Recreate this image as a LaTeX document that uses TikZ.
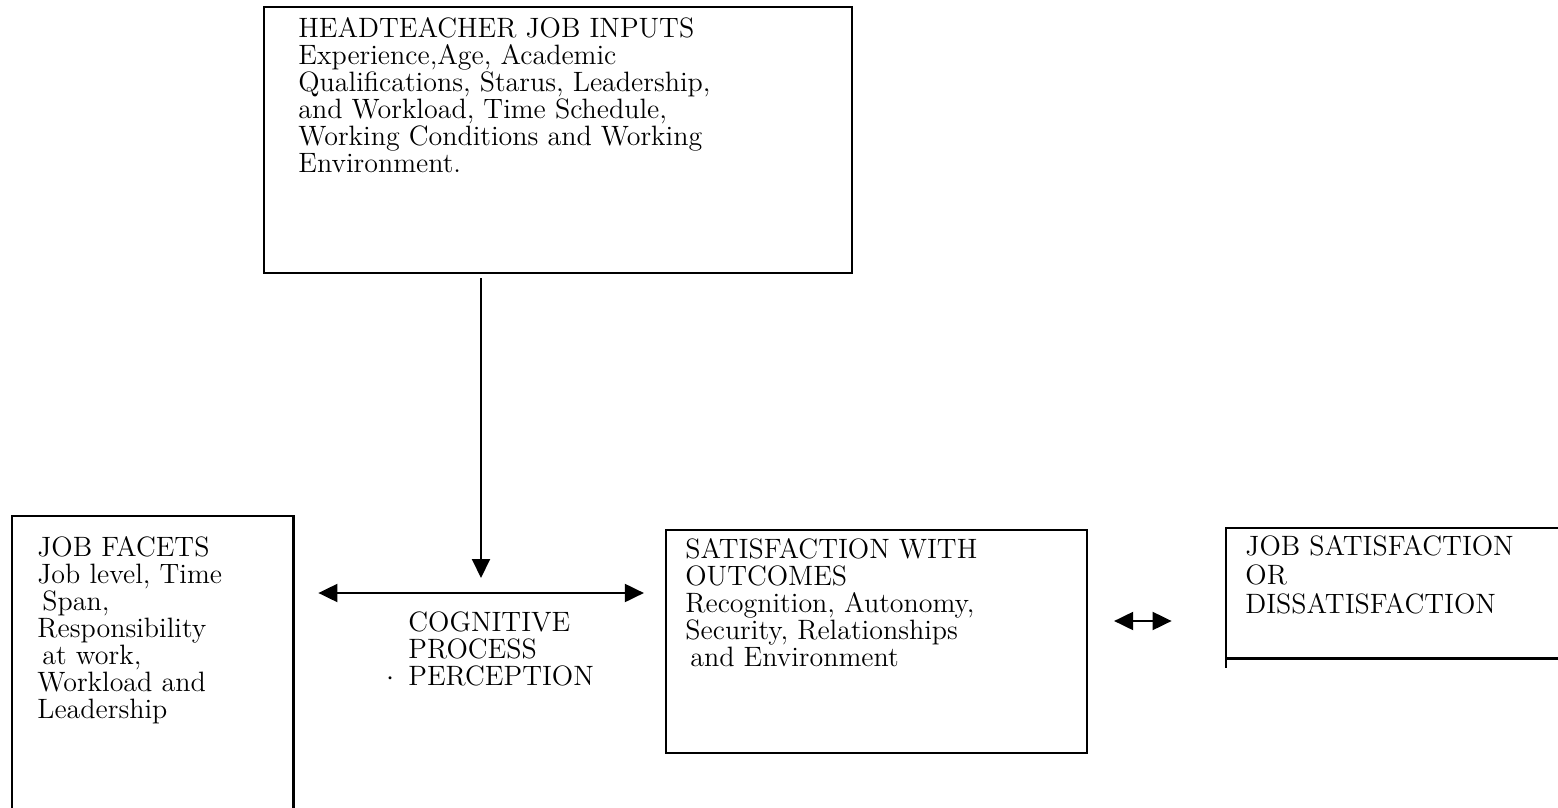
\documentclass[tikz,border=0pt]{standalone}
\usetikzlibrary{arrows.meta,fit}
\begin{document}
\begin{tikzpicture}[x=0.5pt,y=-0.5pt,
  box/.style={draw, line width=1.1pt, inner sep=0pt},
  frame/.style={inner sep=0pt},
  edge/.style={line width=1.1pt},
  txt/.style={anchor=north west, inner sep=0pt, align=left, font=\fontsize{14}{13.5}\selectfont},
  tip/.style={Triangle[length=9.5pt,width=9pt]},
  arr/.style={line width=1pt, -{Triangle[length=9.5pt,width=9pt]}},
  dbl/.style={line width=1pt, {Triangle[length=9.5pt,width=9pt]}-{Triangle[length=9.5pt,width=9pt]}}]
\useasboundingbox (0,0) rectangle (1558,808);

% top box
\node[box, fit={(264,7)(852,273)}] (inputs) {};
\node[txt] (inputsT) at (298,17) {HEADTEACHER JOB INPUTS\\Experience,Age, Academic\\Qualifications, Starus, Leadership,\\and Workload, Time Schedule,\\Working Conditions and Working\\Environment.};

% left box (open at bottom)
\node[frame, fit={(12,516)(293,808)}] (facets) {};
\draw[edge] (facets.south west) -- (facets.north west) -- (facets.north east) -- (facets.south east);
\node[txt] (facetsT) at (37,536) {JOB FACETS\\Job level, Time\\\hspace{2.5pt}Span,\\Responsibility\\\hspace{2.5pt}at work,\\Workload and\\Leadership};

% cognitive process
\coordinate (cp) at (481,593);
\coordinate (vtip) at (481,578);
\node[txt] (cog) at (408,611) {COGNITIVE\\PROCESS\\\llap{$\cdot$\hspace{7pt}}PERCEPTION};

% middle box
\node[box, fit={(666,530)(1087,753)}] (outcomes) {};
\node[txt] (outcomesT) at (685,538) {SATISFACTION WITH\\OUTCOMES\\Recognition, Autonomy,\\Security, Relationships\\\hspace{2.5pt}and Environment};

% right box (open at right)
\node[frame, fit={(1226,528)(1558,658)}] (result) {};
\draw[edge] (result.north east) -- (result.north west) -- ([yshift=-5pt]result.south west);
\draw[edge] (result.south west) -- (result.south east);
\node[txt, font=\fontsize{14}{14.5}\selectfont] (resultT) at (1245,535) {JOB SATISFACTION\\OR\\DISSATISFACTION};

% connectors
\draw[arr, shorten <=2pt] (cp |- inputs.south) -- (vtip);
\coordinate (a2) at (1140,621);
\draw[dbl, shorten <=12.5pt, shorten >=10.5pt] (facets.east |- cp) -- (outcomes.west |- cp);
\draw[dbl, shorten <=13pt, shorten >=27pt] (outcomes.east |- a2) -- (result.west |- a2);
\end{tikzpicture}
\end{document}
